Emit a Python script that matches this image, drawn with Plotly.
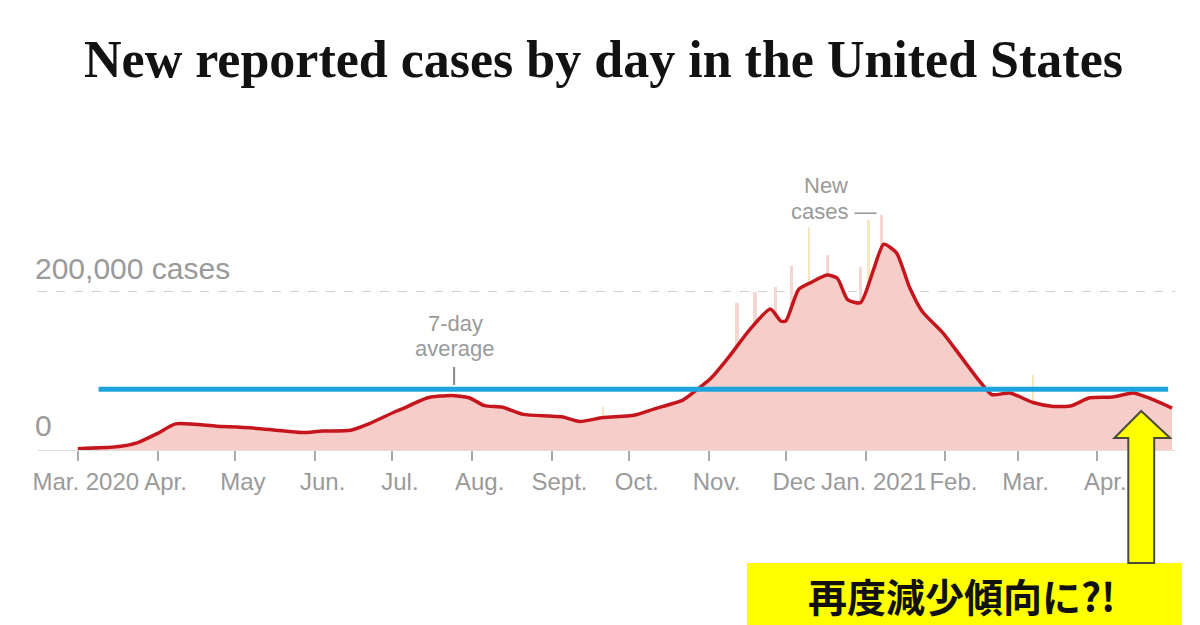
import plotly.graph_objects as go

W, H = 1200, 625

# 7-day average of new reported cases
avg_dates = [
    "2020-03-01", "2020-03-16", "2020-03-24", "2020-04-01", "2020-04-08", "2020-04-24",
    "2020-05-07", "2020-05-17", "2020-05-27", "2020-06-04", "2020-06-15", "2020-06-22",
    "2020-07-02", "2020-07-05", "2020-07-15", "2020-07-24", "2020-07-31", "2020-08-06",
    "2020-08-13", "2020-08-21", "2020-08-31", "2020-09-05", "2020-09-12", "2020-09-21",
    "2020-10-03", "2020-10-11", "2020-10-22", "2020-10-27", "2020-11-02", "2020-11-09",
    "2020-11-17", "2020-11-25", "2020-11-29", "2020-12-01", "2020-12-06", "2020-12-11",
    "2020-12-17", "2020-12-21", "2020-12-25", "2020-12-30", "2021-01-04", "2021-01-08",
    "2021-01-13", "2021-01-18", "2021-01-23", "2021-01-31", "2021-02-07", "2021-02-14",
    "2021-02-19", "2021-02-26", "2021-03-07", "2021-03-15", "2021-03-22", "2021-03-29",
    "2021-04-07", "2021-04-15", "2021-04-20", "2021-04-30",
]
avg_values = [
    1600, 4000, 9000, 21000, 33000, 30000,
    28000, 25000, 22000, 24000, 25000, 33000,
    48000, 52000, 66000, 69000, 66000, 56000,
    54000, 45000, 43000, 42000, 36000, 41000,
    44000, 52000, 63000, 75000, 91000, 118000,
    152000, 178000, 163000, 163000, 203000, 212000,
    221000, 217000, 190000, 186000, 227000, 260000,
    249000, 206000, 175000, 148000, 118000, 88000,
    70000, 72000, 60000, 55000, 56000, 66000,
    67000, 72000, 67000, 53000,
]

# a few daily-case bars that stand out above the average
spike_dates = ["2020-11-12", "2020-11-19", "2020-11-27", "2020-12-03", "2020-12-17",
               "2020-12-30", "2021-01-07"]
spike_values = [186000, 200000, 206000, 232000, 246000, 231000, 297000]
flag_dates = ["2020-09-21", "2020-12-10", "2021-01-02", "2021-03-07"]
flag_values = [54000, 282000, 290000, 95000]

tick_vals = ["2020-03-01", "2020-04-01", "2020-05-01", "2020-06-01", "2020-07-01",
             "2020-08-01", "2020-09-01", "2020-10-01", "2020-11-01", "2020-12-01",
             "2021-01-01", "2021-02-01", "2021-03-01", "2021-04-01"]
tick_text = ["Mar. 2020", "Apr.", "May", "Jun.", "Jul.", "Aug.", "Sept.", "Oct.",
             "Nov.", "Dec", "Jan. 2021", "Feb.", "Mar.", "Apr."]

ref_level = 76700  # blue reference line
grid_value = 200000

GRAY = "#9a9a9a"
SANS = "Liberation Sans, Arial, sans-serif"


def px(x):
    return x / W


def py(y):
    return 1 - y / H


fig = go.Figure()
fig.add_trace(go.Scatter(
    x=avg_dates, y=avg_values, mode="lines", fill="tozeroy",
    fillcolor="#f7cdc9", line=dict(width=0, shape="spline", smoothing=0.6),
    hoverinfo="skip", showlegend=False))
fig.add_trace(go.Bar(
    x=spike_dates, y=spike_values, marker=dict(color="#f6d6d2", line=dict(width=0)),
    width=86400000 * 1.2, showlegend=False))
fig.add_trace(go.Bar(
    x=flag_dates, y=flag_values, marker=dict(color="#f9e5be", line=dict(width=0)),
    width=86400000 * 1.0, showlegend=False))
fig.add_trace(go.Scatter(
    x=avg_dates, y=avg_values, mode="lines",
    line=dict(color="#c4161c", width=3.5, shape="spline", smoothing=0.6),
    showlegend=False))

ymax = (450 - 170) * grid_value / (450 - 291.7)

fig.update_layout(
    width=W, height=H,
    margin=dict(l=0, r=0, t=0, b=0),
    paper_bgcolor="white", plot_bgcolor="white",
    barmode="overlay", bargap=0,
    showlegend=False,
    xaxis=dict(
        domain=[px(33), px(1175)],
        type="date",
        range=["2020-02-14 12:00", "2021-05-01 05:00"],
        tickvals=tick_vals, ticktext=tick_text, tickangle=0,
        ticks="outside", ticklen=10, tickcolor="#aaaaaa", tickwidth=1.5,
        ticklabelshift=8,
        tickfont=dict(family=SANS, size=24, color=GRAY),
        showgrid=False, zeroline=False,
        showline=True, linecolor="#dddddd", linewidth=1,
    ),
    yaxis=dict(
        domain=[py(450), py(170)],
        range=[0, ymax],
        tickvals=[grid_value], showticklabels=False,
        showgrid=True, gridcolor="#cfcfcf", griddash="dash", gridwidth=1,
        zeroline=False, showline=False,
    ),
    font=dict(family=SANS),
)


def note(text, x, y, size, color=GRAY, xanchor="center", family=None):
    f = dict(size=size, color=color)
    if family:
        f["family"] = family
    return dict(text=text, x=px(x), y=py(y), xref="paper", yref="paper",
                xanchor=xanchor, yanchor="middle", showarrow=False, font=f)


annotations = [
    note("<b>New reported cases by day in the United States</b>", 601, 60, 52,
         color="#121212", family="Liberation Serif, Times New Roman, serif"),
    note("200,000 cases", 28, 268, 30, xanchor="left"),
    note("0", 28, 425, 30, xanchor="left"),
    note("7-day", 452, 323, 22),
    note("average", 452, 348, 22),
    note("New", 824, 186, 22),
    note("cases —", 832, 212, 22),
    note("<b>再度減少傾向に?!</b>", 961, 595, 39, color="#111111",
         family="Noto Sans CJK JP"),
]
fig.update_layout(annotations=annotations)

arrow_path = (f"M {px(1141)},{py(411)} L {px(1170)},{py(438)} L {px(1154)},{py(438)} "
              f"L {px(1154)},{py(563)} L {px(1128)},{py(563)} L {px(1128)},{py(438)} "
              f"L {px(1114)},{py(438)} Z")

shapes = [
    # 7-day average pointer tick
    dict(type="line", xref="paper", yref="paper", x0=px(451), x1=px(451),
         y0=py(367), y1=py(385), line=dict(color="#888888", width=2)),
    # blue reference line
    dict(type="line", xref="paper", yref="y", x0=px(94), x1=px(1168),
         y0=ref_level, y1=ref_level, line=dict(color="#1ea4dc", width=5), layer="above"),
    # yellow label box
    dict(type="rect", xref="paper", yref="paper", x0=px(745), x1=px(1182),
         y0=py(625), y1=py(563), fillcolor="#ffff00", line=dict(width=0), layer="below"),
    # yellow arrow
    dict(type="path", xref="paper", yref="paper", path=arrow_path,
         fillcolor="#ffff00", line=dict(color="#4a4a3a", width=2), layer="above"),
]
fig.update_layout(shapes=shapes)

fig.write_html("out.html", config={"displayModeBar": False},
               post_script="document.body.style.margin='0';")
